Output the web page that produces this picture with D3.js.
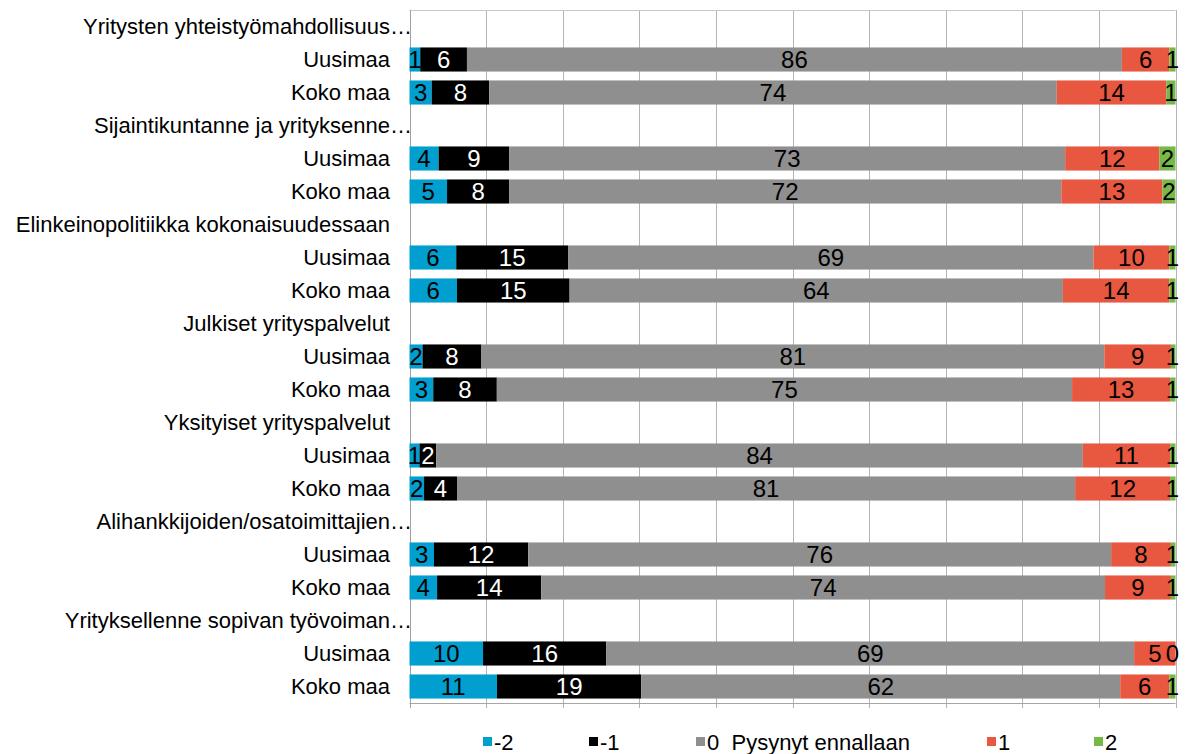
<!DOCTYPE html>
<html>
<head>
<meta charset="utf-8">
<script src="https://cdn.jsdelivr.net/npm/d3@7"></script>
<style>
  html, body { margin: 0; padding: 0; background: #fff; }
  svg { display: block; font-family: "Liberation Sans", Arial, sans-serif; }
</style>
</head>
<body>
<svg id="chart" width="1193" height="754"></svg>
<script>
// ---- data ----
const categories = [
  "Yritysten yhteistyömahdollisuus…", "Uusimaa", "Koko maa",
  "Sijaintikuntanne ja yrityksenne…", "Uusimaa", "Koko maa",
  "Elinkeinopolitiikka kokonaisuudessaan", "Uusimaa", "Koko maa",
  "Julkiset yrityspalvelut", "Uusimaa", "Koko maa",
  "Yksityiset yrityspalvelut", "Uusimaa", "Koko maa",
  "Alihankkijoiden/osatoimittajien…", "Uusimaa", "Koko maa",
  "Yrityksellenne sopivan työvoiman…", "Uusimaa", "Koko maa"
];
const seriesNames = ["-2", "-1", "0  Pysynyt ennallaan", "1", "2"];
const valsMinus2 = [null, 1.4, 2.9, null, 3.8, 4.9, null, 6.1, 6.2, null, 1.7, 3.1, null, 1.3, 1.9, null, 3.2, 3.6, null, 9.6, 11.4];
const valsMinus1 = [null, 6.1, 7.5, null, 9.2, 8.1, null, 14.6, 14.7, null, 7.7, 8.3, null, 2.2, 4.3, null, 12.3, 13.6, null, 16.1, 18.8];
const valsZero   = [null, 85.5, 74.1, null, 72.6, 72.1, null, 68.6, 64.4, null, 81.4, 75.1, null, 84.4, 80.7, null, 76.1, 73.6, null, 68.9, 62.4];
const valsPlus1  = [null, 6.2, 14.3, null, 12.3, 13.2, null, 9.9, 13.9, null, 8.7, 12.8, null, 11.4, 12.4, null, 7.8, 8.6, null, 5.4, 6.4];
const valsPlus2  = [null, 0.8, 1.2, null, 2.1, 1.7, null, 0.8, 0.8, null, 0.6, 0.7, null, 0.7, 0.7, null, 0.6, 0.6, null, 0.0, 0.8];
const xTicks = [0, 10, 20, 30, 40, 50, 60, 70, 80, 90, 100];

const colors = ["#009FCF", "#000000", "#8F8F8F", "#E8573F", "#76B947"];
const labelColors = ["#000", "#fff", "#000", "#000", "#000"];

// ---- build table ----
const seriesArrays = [valsMinus2, valsMinus1, valsZero, valsPlus1, valsPlus2];
const keys = ["m2", "m1", "z", "p1", "p2"];
const rows = categories.map((c, i) => {
  const r = { idx: i, label: c, header: valsZero[i] === null };
  keys.forEach((k, j) => r[k] = seriesArrays[j][i] === null ? 0 : seriesArrays[j][i]);
  return r;
});

const svg = d3.select("#chart");
const margin = { left: 409.5, right: 1175.5, top: 10, bottom: 703 };

const x = d3.scaleLinear().domain([0, 100]).range([margin.left, margin.right]);
const y = d3.scaleBand().domain(rows.map(r => r.idx)).range([margin.top, margin.bottom]).paddingInner(0.27).paddingOuter(0.135);
const yBand = d3.scaleBand().domain(rows.map(r => r.idx)).range([margin.top, margin.bottom]);

// gridlines
svg.append("g").selectAll("line").data(xTicks).join("line")
  .attr("x1", d => Math.round(x(d)) + 0.5).attr("x2", d => Math.round(x(d)) + 0.5)
  .attr("y1", margin.top).attr("y2", margin.bottom + 5)
  .attr("stroke", "#B4B4B4").attr("stroke-width", 1);
svg.append("line")
  .attr("x1", x(0)).attr("x2", x(100)).attr("y1", margin.top + 0.5).attr("y2", margin.top + 0.5)
  .attr("stroke", "#C8C8C8");
svg.append("line")
  .attr("x1", x(0)).attr("x2", x(100)).attr("y1", margin.bottom + 0.5).attr("y2", margin.bottom + 0.5)
  .attr("stroke", "#A6A6A6");
svg.append("line")
  .attr("x1", Math.round(x(0)) + 0.5).attr("x2", Math.round(x(0)) + 0.5).attr("y1", margin.top).attr("y2", margin.bottom + 5)
  .attr("stroke", "#A0A0A0");

// stacks (100% stacked)
const stack = d3.stack().keys(keys).offset(d3.stackOffsetExpand);
const data = rows.filter(r => !r.header);
const stacked = stack(data);

const gBars = svg.append("g");
stacked.forEach((layer, si) => {
  gBars.append("g").attr("fill", colors[si]).selectAll("rect").data(layer).join("rect")
    .attr("x", d => x(d[0] * 100))
    .attr("width", d => Math.max(0, x(d[1] * 100) - x(d[0] * 100)))
    .attr("y", d => y(d.data.idx))
    .attr("height", y.bandwidth());
});
// labels
stacked.forEach((layer, si) => {
  svg.append("g").selectAll("text").data(layer).join("text")
    .attr("x", d => {
      const cx = (x(d[0] * 100) + x(d[1] * 100)) / 2;
      return Math.min(cx, margin.right - 3);
    })
    .attr("y", d => y(d.data.idx) + y.bandwidth() / 2)
    .attr("dy", "0.37em")
    .attr("text-anchor", "middle")
    .attr("font-size", 24)
    .attr("fill", labelColors[si])
    .text(d => d3.format(".0f")(d.data[keys[si]]));
});

// category labels
const gCat = svg.append("g").attr("font-size", 22).attr("fill", "#000");
rows.forEach(r => {
  const cy = yBand(r.idx) + yBand.bandwidth() / 2;
  let txt = r.label, ell = "";
  if (txt.endsWith("…")) { ell = "…"; txt = txt.slice(0, -1); }
  gCat.append("text").attr("x", 390).attr("y", cy).attr("dy", "0.36em")
    .attr("text-anchor", "end").text(txt);
  if (ell) {
    gCat.append("text").attr("x", 390).attr("y", cy).attr("dy", "0.36em")
      .attr("text-anchor", "start").text(ell);
  }
});

// legend
const legendX = [483, 589, 696, 987, 1094];
const lg = svg.append("g").attr("font-size", 22);
seriesNames.forEach((n, i) => {
  lg.append("rect").attr("x", legendX[i]).attr("y", 737).attr("width", 9).attr("height", 9).attr("fill", colors[i]);
  lg.append("text").attr("x", legendX[i] + 11).attr("y", 742).attr("dy", "0.36em")
    .style("white-space", "pre").text(n);
});
</script>
</body>
</html>
